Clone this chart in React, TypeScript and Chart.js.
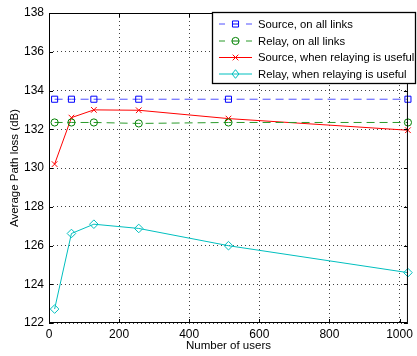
import React, { useEffect, useRef } from "react";
import { Chart, registerables } from "chart.js";

Chart.register(...registerables);

const users = [16, 64, 128, 256, 512, 1024];
const sourceAll = [133.55, 133.55, 133.55, 133.55, 133.55, 133.55];
const relayAll = [132.35, 132.35, 132.35, 132.3, 132.35, 132.35];
const sourceUseful = [130.2, 132.6, 133.0, 132.98, 132.55, 131.95];
const relayUseful = [122.72, 126.62, 127.1, 126.88, 125.99, 124.6];
const xTicks = [0, 200, 400, 600, 800, 1000];
const yTicks = [122, 124, 126, 128, 130, 132, 134, 136, 138];
const seriesNames = [
  "Source, on all links",
  "Relay, on all links",
  "Source, when relaying is useful",
  "Relay, when relaying is useful",
];

const FONT = "Arial, 'Liberation Sans', sans-serif";

const frameLegendPlugin = {
  id: "frameLegend",
  afterDatasetsDraw(chart: any) {
    const { ctx, chartArea } = chart;
    const { left, right, top, bottom } = chartArea;
    ctx.save();
    ctx.strokeStyle = "#000";
    ctx.lineWidth = 1;
    ctx.setLineDash([]);
    ctx.strokeRect(left + 0.5, top + 0.5, right - left - 1, bottom - top - 1);
    const xs = chart.scales.x;
    const ys = chart.scales.y;
    ctx.beginPath();
    xTicks.forEach((v) => {
      const px = Math.round(xs.getPixelForValue(v)) + 0.5;
      ctx.moveTo(px, bottom);
      ctx.lineTo(px, bottom - 4);
      ctx.moveTo(px, top);
      ctx.lineTo(px, top + 4);
    });
    yTicks.forEach((v) => {
      const py = Math.round(ys.getPixelForValue(v)) + 0.5;
      ctx.moveTo(left, py);
      ctx.lineTo(left + 4, py);
      ctx.moveTo(right, py);
      ctx.lineTo(right - 4, py);
    });
    ctx.stroke();

    // legend
    const bx = 212.5, by = 12.5, bw = 203, bh = 71;
    ctx.fillStyle = "#fff";
    ctx.fillRect(bx, by, bw, bh);
    ctx.lineWidth = 1.3;
    ctx.strokeRect(bx, by, bw, bh);
    const rowY = [24, 41, 57.5, 74];
    const cx = 235.5;
    chart.data.datasets.forEach((ds: any, i: number) => {
      const y = rowY[i];
      ctx.save();
      ctx.strokeStyle = ds.borderColor;
      ctx.lineWidth = 1;
      ctx.setLineDash([]);
      ctx.beginPath();
      if (ds.borderDash && ds.borderDash.length) {
        ctx.moveTo(219, y); ctx.lineTo(225, y);
        ctx.moveTo(246, y); ctx.lineTo(252, y);
      } else {
        ctx.moveTo(219, y); ctx.lineTo(252, y);
      }
      ctx.stroke();
      ctx.restore();
      ctx.save();
      ctx.strokeStyle = ds.pointBorderColor;
      ctx.lineWidth = 1;
      const style = ds.pointStyle;
      const r = ds.pointRadius;
      ctx.beginPath();
      if (style === "rect") {
        const s = r * Math.SQRT1_2;
        ctx.rect(cx - s, y - s, 2 * s, 2 * s);
        ctx.moveTo(cx - s, y); ctx.lineTo(cx + s, y);
      } else if (style === "circle") {
        ctx.arc(cx, y, r, 0, Math.PI * 2);
        ctx.moveTo(cx - r, y); ctx.lineTo(cx + r, y);
      } else if (style === "crossRot") {
        const s = r * Math.SQRT1_2;
        ctx.moveTo(cx - s, y - s); ctx.lineTo(cx + s, y + s);
        ctx.moveTo(cx - s, y + s); ctx.lineTo(cx + s, y - s);
      } else if (style === "rectRot") {
        ctx.moveTo(cx, y - r); ctx.lineTo(cx + r * 0.8, y);
        ctx.lineTo(cx, y + r); ctx.lineTo(cx - r * 0.8, y);
        ctx.closePath();
      }
      ctx.stroke();
      ctx.restore();
      ctx.fillStyle = "#000";
      ctx.font = "11.3px " + FONT;
      ctx.textBaseline = "middle";
      ctx.textAlign = "left";
      ctx.fillText(ds.label, 258, y + 0.5);
    });
    ctx.restore();
  },
};

export default function App() {
  const ref = useRef<HTMLCanvasElement | null>(null);
  useEffect(() => {
    if (!ref.current) return;
    const mk = (vals: number[]) => users.map((u, i) => ({ x: u, y: vals[i] }));
    const chart = new Chart(ref.current, {
      type: "line",
      data: {
        datasets: [
          {
            label: seriesNames[0],
            data: mk(sourceAll),
            borderColor: "#5050ff",
            borderDash: [8, 5],
            borderWidth: 1,
            pointStyle: "rect",
            pointRadius: 4.3,
            pointBorderColor: "#0000ff",
            pointBackgroundColor: "rgba(0,0,0,0)",
            pointBorderWidth: 1,
            clip: false,
          },
          {
            label: seriesNames[1],
            data: mk(relayAll),
            borderColor: "#2a9a2a",
            borderDash: [8, 5],
            borderWidth: 1,
            pointStyle: "circle",
            pointRadius: 3.6,
            pointBorderColor: "#008000",
            pointBackgroundColor: "rgba(0,0,0,0)",
            pointBorderWidth: 1,
            clip: false,
          },
          {
            label: seriesNames[2],
            data: mk(sourceUseful),
            borderColor: "#ff0000",
            borderWidth: 1,
            pointStyle: "crossRot",
            pointRadius: 4,
            pointBorderColor: "#ff0000",
            pointBackgroundColor: "rgba(0,0,0,0)",
            pointBorderWidth: 1,
            clip: false,
          },
          {
            label: seriesNames[3],
            data: mk(relayUseful),
            borderColor: "#00bfbf",
            borderWidth: 1,
            pointStyle: "rectRot",
            pointRadius: 4.3,
            pointBorderColor: "#00bfbf",
            pointBackgroundColor: "rgba(0,0,0,0)",
            pointBorderWidth: 1,
            clip: false,
          },
        ],
      },
      options: {
        animation: false,
        responsive: false,
        maintainAspectRatio: false,
        layout: { padding: { left: 0, right: 4, top: 13, bottom: 0 } },
        plugins: { legend: { display: false }, tooltip: { enabled: false } },
        elements: { line: { tension: 0 } },
        scales: {
          x: {
            type: "linear",
            min: 0,
            max: 1024,
            afterBuildTicks: (s: any) => {
              s.ticks = xTicks.map((v) => ({ value: v }));
            },
            afterFit: (s: any) => {
              s.height = 33;
            },
            border: { display: false, dash: [1, 3] },
            grid: {
              color: "rgba(0,0,0,0.75)",
              lineWidth: 1,
              drawTicks: false,
            },
            ticks: {
              color: "#000",
              padding: 4,
              maxRotation: 0,
              autoSkip: false,
              font: { family: FONT, size: 12 },
              callback: (v: any) => String(v),
            },
            title: {
              display: true,
              text: "Number of users",
              color: "#000",
              font: { family: FONT, size: 11.5 },
              padding: { top: 0, bottom: 3 },
            },
          },
          y: {
            type: "linear",
            min: 122,
            max: 138,
            afterBuildTicks: (s: any) => {
              s.ticks = yTicks.map((v) => ({ value: v }));
            },
            afterFit: (s: any) => {
              s.width = 49;
            },
            border: { display: false, dash: [1, 3] },
            grid: {
              color: "rgba(0,0,0,0.75)",
              lineWidth: 1,
              drawTicks: false,
            },
            ticks: {
              color: "#000",
              padding: 5,
              autoSkip: false,
              font: { family: FONT, size: 12 },
              callback: (v: any) => String(v),
            },
            title: {
              display: true,
              text: "Average Path loss (dB)",
              color: "#000",
              font: { family: FONT, size: 11.5 },
              padding: { top: 8, bottom: 0 },
            },
          },
        },
      },
      plugins: [frameLegendPlugin],
    } as any);
    return () => chart.destroy();
  }, []);
  return (
    <div style={{ position: "absolute", left: 0, top: 0, width: 417, height: 356 }}>
      <canvas ref={ref} width={417} height={356} style={{ width: 417, height: 356 }} />
    </div>
  );
}
